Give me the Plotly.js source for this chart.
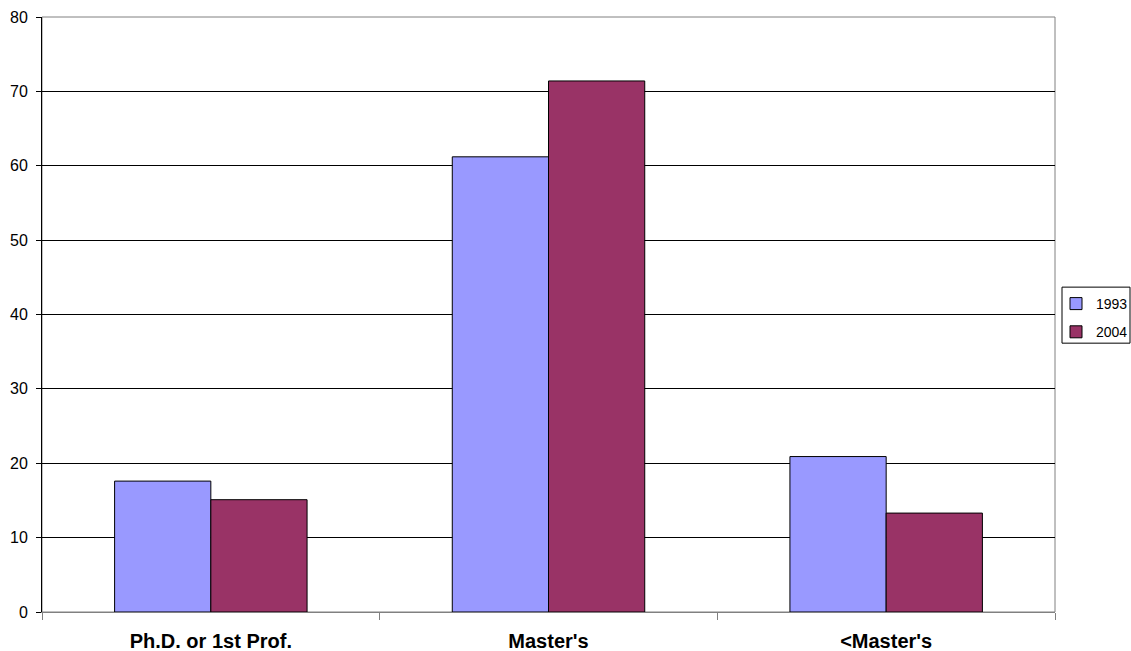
<!DOCTYPE html>
<html>
<head>
<meta charset="utf-8">
<script src="https://cdn.plot.ly/plotly-3.0.1.min.js"></script>
<style>html,body{margin:0;padding:0;background:#fff;}#chart{width:1131px;height:651px;}</style>
</head>
<body>
<div id="chart"></div>
<script>
const categories = ["Ph.D. or 1st Prof.", "Master's", "<Master's"];
const values1993 = [17.6, 61.2, 20.9];
const values2004 = [15.1, 71.4, 13.3];
const seriesNames = ["1993", "2004"];
const yTickValues = [0, 10, 20, 30, 40, 50, 60, 70, 80];

const traces = [
  {type: "bar", name: seriesNames[0], x: categories, y: values1993, legendgroup: "a",
   marker: {color: "#9999FF", line: {color: "#000000", width: 1}}},
  {type: "bar", name: seriesNames[1], x: categories, y: values2004, legendgroup: "b",
   marker: {color: "#993366", line: {color: "#000000", width: 1}}}
];

const layout = {
  width: 1131, height: 651,
  margin: {l: 42, r: 76, t: 17, b: 39, pad: 0},
  paper_bgcolor: "#ffffff", plot_bgcolor: "#ffffff",
  font: {family: "Liberation Sans, Arial, sans-serif", size: 16, color: "#000000"},
  barmode: "group", bargap: 0.43, bargroupgap: 0,
  showlegend: true,
  legend: {xref: "container", yref: "container", x: 1056 / 1131, y: 1 - 288 / 651,
           xanchor: "left", yanchor: "top",
           borderwidth: 0, bgcolor: "rgba(0,0,0,0)",
           font: {size: 14}, itemwidth: 30, tracegroupgap: 7},
  xaxis: {type: "category", tickson: "boundaries", ticks: "outside", ticklen: 7,
          tickcolor: "#808080", tickwidth: 1,
          showline: true, linecolor: "#808080", linewidth: 1,
          showgrid: false, zeroline: false, fixedrange: true, ticklabelstandoff: 11,
          tickfont: {size: 20, family: "Liberation Sans, Arial, sans-serif", weight: "bold"}},
  yaxis: {range: [0, 80], tickvals: yTickValues, ticks: "outside", ticklen: 5,
          tickcolor: "#000000", showline: true, linecolor: "#000000", linewidth: 1,
          showgrid: true, gridcolor: "#000000", gridwidth: 1, zeroline: false,
          ticklabelstandoff: 5,
          tickfont: {size: 16}, fixedrange: true},
  shapes: [
    {type: "rect", xref: "paper", yref: "paper", x0: 0, x1: 1, y0: 0, y1: 1,
     line: {color: "#808080", width: 1}, layer: "below"},
    {type: "rect", xref: "paper", yref: "paper",
     x0: (1062 - 42) / 1013, x1: (1130 - 42) / 1013,
     y0: (611.7 - 343) / 594.7, y1: (611.7 - 287) / 594.7,
     line: {color: "#000000", width: 1}, layer: "above"}
  ]
};

Plotly.newPlot("chart", traces, layout, {displayModeBar: false, staticPlot: true});
</script>
</body>
</html>
